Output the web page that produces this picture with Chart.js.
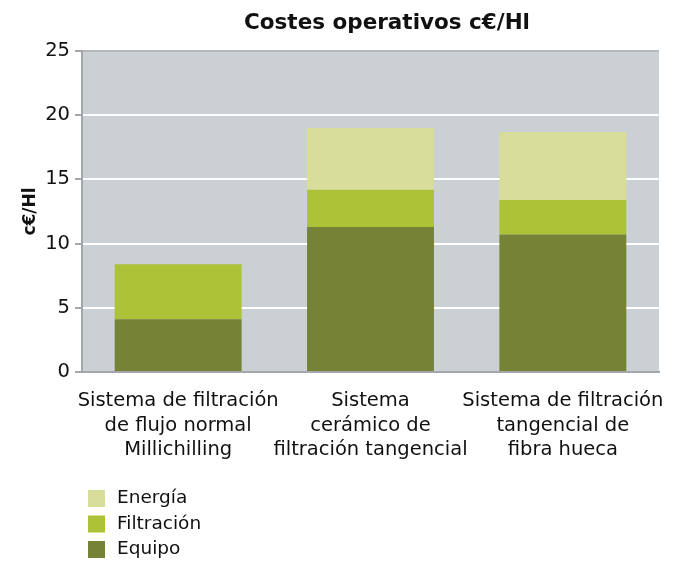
<!DOCTYPE html>
<html>
<head>
<meta charset="utf-8">
<script src="https://cdn.jsdelivr.net/npm/chart.js@4"></script>
<style>
  html, body { margin: 0; padding: 0; background: #fff; }
  #wrap { width: 688px; height: 561px; }
</style>
</head>
<body>
<div id="wrap"><canvas id="grafico" width="688" height="561"></canvas></div>
<script>
// datos
const categorias = [
    ["Sistema de filtración", "de flujo normal", "Millichilling"],
    ["Sistema", "cerámico de", "filtración tangencial"],
    ["Sistema de filtración", "tangencial de", "fibra hueca"]
];
const equipo = [4.1, 11.3, 10.7];
const filtracion = [4.3, 2.9, 2.7];
const energia = [null, 4.8, 5.3];
const ticksY = [0, 5, 10, 15, 20, 25];
const titulo = 'Costes operativos c€/Hl';

const FUENTE = "'DejaVu Sans', sans-serif";

// fondo gris del área del gráfico
const fondoPlugin = {
    id: 'fondo',
    beforeDraw(chart) {
        const { ctx, chartArea: a } = chart;
        ctx.save();
        ctx.fillStyle = '#cbd0d4';
        ctx.fillRect(a.left, a.top, a.right - a.left, a.bottom - a.top);
        ctx.restore();
    }
};

// título (desplazado un poco a la derecha como en el original) + leyenda vertical
const textosPlugin = {
    id: 'textos',
    afterDraw(chart) {
        const ctx = chart.ctx;
        ctx.save();
        ctx.fillStyle = '#111';
        ctx.font = `bold 21.5px ${FUENTE}`;
        ctx.textAlign = 'center';
        ctx.textBaseline = 'middle';
        ctx.fillText(titulo, 387, 23);

        // leyenda en orden inverso
        const sets = chart.data.datasets.slice().reverse();
        ctx.font = `18.5px ${FUENTE}`;
        ctx.textAlign = 'left';
        sets.forEach((ds, i) => {
            const y = 498.5 + i * 25.5;
            ctx.fillStyle = ds.backgroundColor;
            ctx.fillRect(88, y - 8.5, 17, 17);
            ctx.fillStyle = '#111';
            ctx.fillText(ds.label, 117, y);
        });
        ctx.restore();
    }
};

new Chart(document.getElementById('grafico'), {
    type: 'bar',
    data: {
        labels: categorias,
        datasets: [
            { label: 'Equipo', data: equipo, backgroundColor: '#768336' },
            { label: 'Filtración', data: filtracion, backgroundColor: '#adc236' },
            { label: 'Energía', data: energia, backgroundColor: '#d8de9a' }
        ]
    },
    options: {
        responsive: false,
        animation: false,
        layout: { padding: { left: 0, right: 29, top: 51, bottom: 92 } },
        datasets: { bar: { categoryPercentage: 0.66, barPercentage: 1, borderWidth: 0 } },
        plugins: {
            legend: { display: false },
            tooltip: { enabled: false },
            title: { display: false }
        },
        scales: {
            x: {
                stacked: true,
                grid: { display: false },
                border: { color: '#a3a7ab', width: 2 },
                ticks: {
                    color: '#111',
                    font: { family: FUENTE, size: 19.5, lineHeight: 1.28 },
                    padding: 8,
                    maxRotation: 0,
                    autoSkip: false
                },
                afterFit(scale) { scale.height = 97; }
            },
            y: {
                stacked: true,
                min: 0,
                max: 25,
                afterBuildTicks(scale) { scale.ticks = ticksY.map(v => ({ value: v })); },
                grid: {
                    color: ctx => ctx.tick && ctx.tick.value === 25 ? '#b4b8bc' : '#ffffff',
                    lineWidth: 2,
                    tickColor: '#a3a7ab',
                    tickLength: 7
                },
                border: { color: '#a3a7ab', width: 2 },
                ticks: {
                    color: '#111',
                    font: { family: FUENTE, size: 19.5 },
                    padding: 5
                },
                title: {
                    display: true,
                    text: 'c€/Hl',
                    color: '#111',
                    font: { family: FUENTE, size: 17, weight: 'bold' },
                    padding: { top: 20, bottom: 0 }
                },
                afterFit(scale) { scale.width = 82; }
            }
        }
    },
    plugins: [fondoPlugin, textosPlugin]
});
</script>
</body>
</html>
